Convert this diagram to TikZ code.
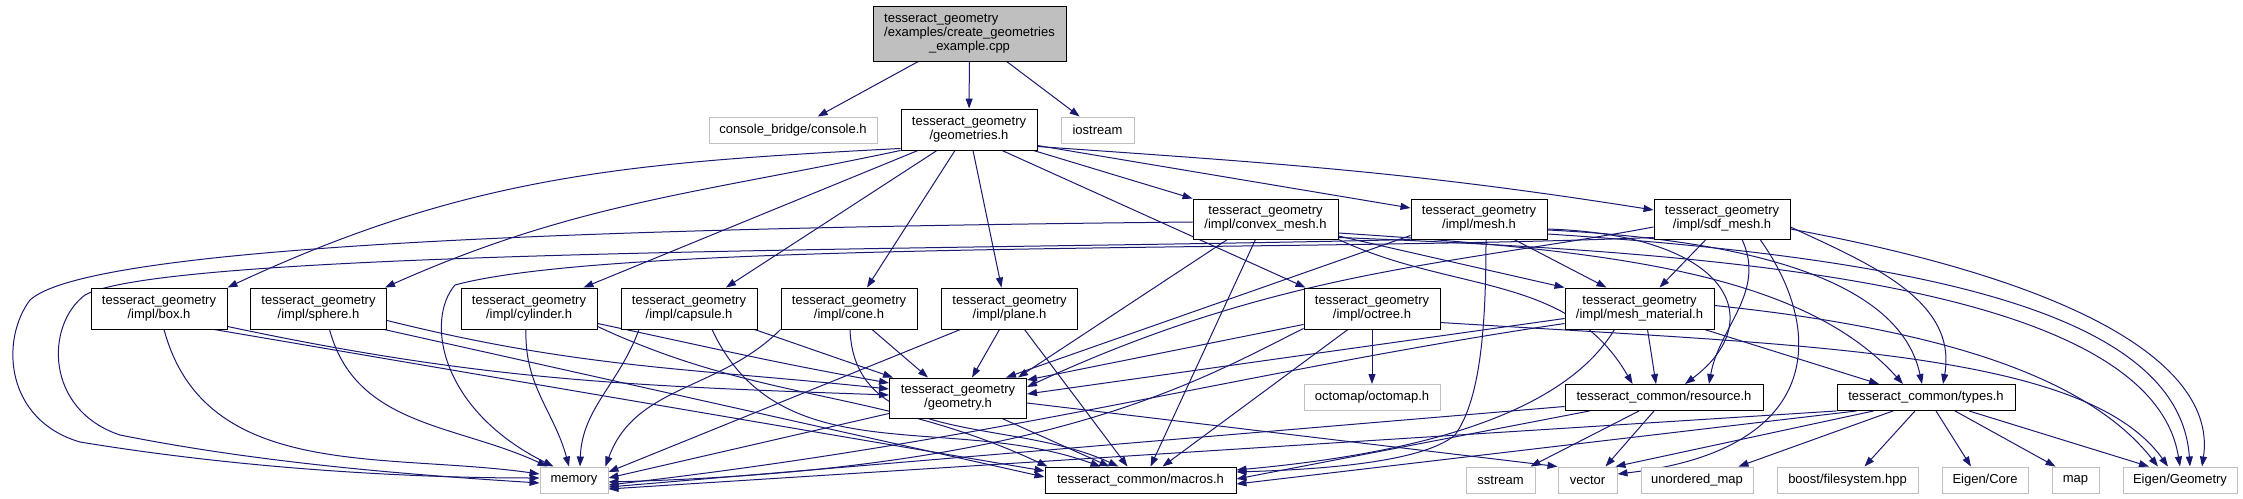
\documentclass[tikz,border=0pt]{standalone}
\usepackage{fontspec}
\setmainfont{Liberation Sans}
\usetikzlibrary{arrows.meta,calc,backgrounds}
\definecolor{edgeblue}{HTML}{191970}
\definecolor{extgray}{HTML}{BFBFBF}
\definecolor{curgray}{HTML}{BFBFBF}
\newcommand{\nodefont}{\fontsize{9.75pt}{10.5pt}\selectfont}
\tikzset{
  nbase/.style={rectangle, inner sep=0pt, font=\nodefont, align=center, line width=0.7pt},
  inc/.style={nbase, draw=black, fill=white},
  ext/.style={nbase, draw=extgray, fill=white, minimum height=19.5pt},
  cur/.style={nbase, draw=black, fill=curgray},
  two/.style={minimum width=102pt, minimum height=30.75pt},
  e/.style={draw=edgeblue, line width=0.75pt, -{Triangle[length=7.5pt,width=5.25pt]}},
}
\begin{document}
\begin{tikzpicture}[x=0.75pt,y=-0.75pt]
\useasboundingbox (0,0) rectangle (2243,499);

% ---------- nodes ----------
\node[cur, minimum width=144.75pt, minimum height=41.25pt] (top) at (969.5,33.5)
  {\begin{tabular}{@{}l@{}}tesseract\_geometry\\/examples/create\_geometries\\\multicolumn{1}{@{}c@{}}{\_example.cpp}\end{tabular}};
\node[ext, minimum width=126pt] (console) at (793,130) {console\_bridge/console.h};
\node[inc, two] (geometries) at (969,129.5) {tesseract\_geometry\\/geometries.h};
\node[ext, minimum width=54.75pt] (iostream) at (1097.5,130) {iostream};

\node[inc, minimum width=108.75pt, minimum height=30pt] (convex) at (1265.5,219) {tesseract\_geometry\\/impl/convex\_mesh.h};
\node[inc, minimum width=102pt, minimum height=30pt] (mesh) at (1479,219) {tesseract\_geometry\\/impl/mesh.h};
\node[inc, minimum width=102pt, minimum height=30pt] (sdf) at (1722,219) {tesseract\_geometry\\/impl/sdf\_mesh.h};

\node[inc, two] (box) at (159,308.5) {tesseract\_geometry\\/impl/box.h};
\node[inc, two] (sphere) at (318.5,308.5) {tesseract\_geometry\\/impl/sphere.h};
\node[inc, two] (cylinder) at (529,308.5) {tesseract\_geometry\\/impl/cylinder.h};
\node[inc, two] (capsule) at (689,308.5) {tesseract\_geometry\\/impl/capsule.h};
\node[inc, two] (cone) at (849,308.5) {tesseract\_geometry\\/impl/cone.h};
\node[inc, two] (plane) at (1009.5,308.5) {tesseract\_geometry\\/impl/plane.h};
\node[inc, two] (octree) at (1372,308.5) {tesseract\_geometry\\/impl/octree.h};
\node[inc, minimum width=111.75pt, minimum height=30.75pt] (meshmat) at (1639.5,308.5) {tesseract\_geometry\\/impl/mesh\_material.h};

\node[inc, minimum width=102.75pt, minimum height=30pt] (geometry) at (958,398) {tesseract\_geometry\\/geometry.h};
\node[ext, minimum width=102pt] (octomap) at (1372,397.5) {octomap/octomap.h};
\node[inc, minimum width=148.5pt, minimum height=19.5pt] (resource) at (1664,397.5) {tesseract\_common/resource.h};
\node[inc, minimum width=133.5pt, minimum height=19.5pt] (types) at (1926,397.5) {tesseract\_common/types.h};

\node[ext, minimum width=51pt] (memory) at (574,480) {memory};
\node[inc, minimum width=143.25pt, minimum height=19.5pt] (macros) at (1140.5,480) {tesseract\_common/macros.h};
\node[ext, minimum width=51.75pt] (sstream) at (1500.5,480) {sstream};
\node[ext, minimum width=44.25pt] (vector) at (1587.5,480) {vector};
\node[ext, minimum width=84pt] (umap) at (1697,480) {unordered\_map};
\node[ext, minimum width=105.75pt] (boost) at (1847.5,480) {boost/filesystem.hpp};
\node[ext, minimum width=64.5pt] (eigencore) at (1985,480) {Eigen/Core};
\node[ext, minimum width=35.25pt] (map) at (2075.5,480) {map};
\node[ext, minimum width=85.5pt] (eigengeom) at (2180,480) {Eigen/Geometry};

% ---------- edges ----------
\begin{pgfonlayer}{background}
% top
\draw[e] (top) -- (console);
\draw[e] (top) -- (geometries);
\draw[e] (top) -- (iostream);

% geometries.h
\draw[e] ($(geometries.south west)+(0,-2)$) to[out=183,in=25] (box.north east);
\draw[e] (geometries.south west) to[out=192,in=24] ($(sphere.north east)+(-2,0)$);
\draw[e] ($(geometries.south)+(-51,0)$) -- ($(cylinder.north east)+(-14,0)$);
\draw[e] ($(geometries.south)+(-32,0)$) -- ($(capsule.north)+(37,0)$);
\draw[e] ($(geometries.south)+(-14,0)$) -- ($(cone.north)+(18,0)$);
\draw[e] ($(geometries.south)+(4,0)$) -- ($(plane.north)+(-8,0)$);
\draw[e] ($(geometries.south)+(33,0)$) -- ($(octree.north west)+(2,0)$);
\draw[e] ($(geometries.south east)+(-4,0)$) -- (convex.north west);
\draw[e] ($(geometries.east)+(0,16)$) -- ($(mesh.west)+(0,-11)$);
\draw[e] ($(geometries.east)+(0,17)$) to[out=-4,in=171] ($(sdf.west)+(0,-9)$);

% box
\draw[e] ($(box.south)+(5,0)$) to[out=-75,in=172] ($(memory.west)+(0,-6)$);
\draw[e] ($(box.south)+(55,0)$) -- ($(macros.west)+(0,-9)$);
\draw[e] ($(box.south east)+(0,-3)$) to[out=-12,in=178] ($(geometry.west)+(0,-3)$);
% sphere
\draw[e] ($(sphere.south)+(11,0)$) to[out=-75,in=155] ($(memory.north west)+(8,0)$);
\draw[e] ($(sphere.south east)+(-3,0)$) -- ($(macros.west)+(0,-3)$);
\draw[e] ($(sphere.south east)+(0,-9)$) to[out=-14,in=174] ($(geometry.west)+(0,-9)$);
% cylinder
\draw[e] ($(cylinder.south)+(-3,0)$) to[out=-92,in=105] ($(memory.north)+(-5,0)$);
\draw[e] ($(cylinder.south east)+(0,-3)$) to[out=-25,in=155] ($(macros.north west)+(3,0)$);
\draw[e] ($(cylinder.south east)+(0,-6)$) to[out=-12,in=170] ($(geometry.west)+(0,-15)$);
% capsule
\draw[e] ($(capsule.south)+(-50,0)$) to[out=-110,in=88] ($(memory.north)+(6,0)$);
\draw[e] ($(capsule.south)+(23,0)$) to[out=-65,in=160] ($(macros.north)+(-40,0)$);
\draw[e] ($(capsule.south east)+(-3,0)$) -- ($(geometry.north west)+(4,0)$);
% cone
\draw[e] (cone.south west) to[out=-135,in=70] ($(memory.north east)+(-3,0)$);
\draw[e] ($(cone.south)+(1,0)$) to[out=-88,in=155] ($(macros.north)+(-22,0)$);
\draw[e] ($(cone.south)+(23,0)$) -- ($(geometry.north)+(-30,0)$);
% plane
\draw[e] ($(plane.south)+(-49,0)$) -- ($(memory.east)+(0,-8)$);
\draw[e] ($(plane.south)+(15,0)$) -- ($(macros.north)+(-13,0)$);
\draw[e] ($(plane.south)+(-10,0)$) -- ($(geometry.north)+(14,0)$);

% geometry.h
\draw[e] ($(geometry.south west)+(0,-5)$) -- ($(memory.east)+(0,-2)$);
\draw[e] ($(geometry.south)+(44,0)$) -- ($(macros.north)+(-31,0)$);
\draw[e] ($(geometry.east)+(0,5)$) -- (vector.north west);

% octree.h
\draw[e] ($(octree.south west)+(0,-5)$) -- ($(geometry.east)+(0,-18)$);
\draw[e] ($(octree.south west)+(0,-1)$) .. controls (1200,380) and (1050,470) .. ($(memory.east)+(0,2)$);
\draw[e] ($(octree.south)+(-24,0)$) -- ($(macros.north)+(22,0)$);
\draw[e] (octree) -- (octomap);
\draw[e] ($(octree.east)+(0,14)$) .. controls (1800,345) and (2085,350) .. ($(eigengeom.north)+(-12,0)$);

% convex_mesh.h
\draw[e] ($(convex.south)+(-38,0)$) -- ($(geometry.north east)+(-9,0)$);
\draw[e] ($(convex.south)+(-10,0)$) -- ($(macros.north)+(10,0)$);
\draw[e] ($(convex.west)+(0,3)$) .. controls (600,228) and (90,245) .. (30,300)
   .. controls (0,340) and (5,420) .. (80,442)
   .. controls (250,470) and (420,478) .. ($(memory.west)+(0,-2)$);
\draw[e] ($(convex.east)+(0,17)$) -- (meshmat.north west);
\draw[e] (convex.south east) to[out=-25,in=120] ($(resource.north west)+(68,0)$);
\draw[e] ($(convex.east)+(0,14)$) .. controls (1600,250) and (1800,270) .. ($(types.north)+(-23,0)$);
\draw[e] ($(convex.south east)+(0,-2)$) .. controls (1700,252) and (2150,280) .. (eigengeom.north);

% mesh.h
\draw[e] ($(mesh.south west)+(0,-4)$) -- ($(geometry.north east)+(-21,0)$);
\draw[e] (mesh.south west) .. controls (1000,250) and (170,248) .. (85,295)
   .. controls (45,325) and (45,410) .. (120,435)
   .. controls (270,465) and (430,476) .. ($(memory.west)+(0,3)$);
\draw[e] ($(mesh.south)+(7,0)$) .. controls (1486,330) and (1480,400) .. (1455,435)
   .. controls (1420,465) and (1300,470) .. ($(macros.east)+(0,-8)$);
\draw[e] ($(mesh.south)+(35,0)$) -- ($(meshmat.north)+(-33,0)$);
\draw[e] ($(mesh.east)+(0,10)$) .. controls (1730,235) and (1770,320) .. ($(resource.north)+(21,0)$);
\draw[e] ($(mesh.east)+(0,11)$) .. controls (1750,240) and (1900,280) .. ($(types.north)+(-4,0)$);
\draw[e] ($(mesh.east)+(0,15)$) .. controls (1950,260) and (2180,320) .. ($(eigengeom.north)+(10,0)$);

% sdf_mesh.h
\draw[e] ($(sdf.west)+(0,8)$) .. controls (1450,265) and (1280,270) .. ($(geometry.east)+(0,-11)$);
\draw[e] ($(sdf.south west)+(0,-2)$) .. controls (1300,252) and (620,240) .. (455,285)
   .. controls (425,320) and (440,410) .. ($(memory.north west)+(14,0)$);
\draw[e] ($(sdf.south)+(-16,0)$) -- ($(meshmat.north)+(20,0)$);
\draw[e] ($(sdf.south)+(20,0)$) to[out=-65,in=80] ($(resource.north)+(45,0)$);
\draw[e] ($(sdf.south)+(38,0)$) .. controls (1825,330) and (1825,450) .. ($(vector.east)+(0,-6)$);
\draw[e] ($(sdf.east)+(0,8)$) to[out=-25,in=80] ($(types.north)+(17,0)$);
\draw[e] ($(sdf.east)+(0,10)$) .. controls (2120,290) and (2215,380) .. ($(eigengeom.north)+(22,0)$);

% mesh_material.h
\draw[e] ($(meshmat.west)+(0,10)$) -- ($(geometry.east)+(0,-4)$);
\draw[e] ($(meshmat.west)+(0,15)$) .. controls (1250,370) and (1000,440) .. ($(memory.east)+(0,5)$);
\draw[e] ($(meshmat.south)+(-25,0)$) .. controls (1560,420) and (1400,455) .. ($(macros.east)+(0,-10)$);
\draw[e] ($(meshmat.south)+(8,0)$) -- ($(resource.north)+(-8,0)$);
\draw[e] ($(meshmat.south east)+(-10,0)$) -- ($(types.north)+(-47,0)$);
\draw[e] ($(meshmat.east)+(0,-3)$) .. controls (1950,330) and (2090,380) .. ($(eigengeom.north)+(-22,0)$);

% resource.h
\draw[e] ($(resource.west)+(0,9)$) -- ($(memory.east)+(0,7)$);
\draw[e] ($(resource.south west)+(25,0)$) -- ($(macros.east)+(0,-1)$);
\draw[e] ($(resource.south)+(-25,0)$) -- ($(sstream.north east)+(-5,0)$);
\draw[e] ($(resource.south)+(-10,0)$) -- ($(vector.north)+(18,0)$);

% types.h
\draw[e] (types.south west) -- ($(memory.east)+(0,9)$);
\draw[e] ($(types.south west)+(20,0)$) -- ($(macros.east)+(0,4)$);
\draw[e] ($(types.south west)+(37,0)$) -- ($(vector.north east)+(-2,0)$);
\draw[e] ($(types.south)+(-33,0)$) -- ($(umap.north east)+(-15,0)$);
\draw[e] ($(types.south)+(-11,0)$) -- ($(boost.north)+(17,0)$);
\draw[e] ($(types.south)+(10,0)$) -- ($(eigencore.north)+(-14,0)$);
\draw[e] ($(types.south)+(29,0)$) -- ($(map.north west)+(4,0)$);
\draw[e] ($(types.south)+(43,0)$) -- ($(eigengeom.north)+(-31,0)$);
\end{pgfonlayer}
\end{tikzpicture}
\end{document}
